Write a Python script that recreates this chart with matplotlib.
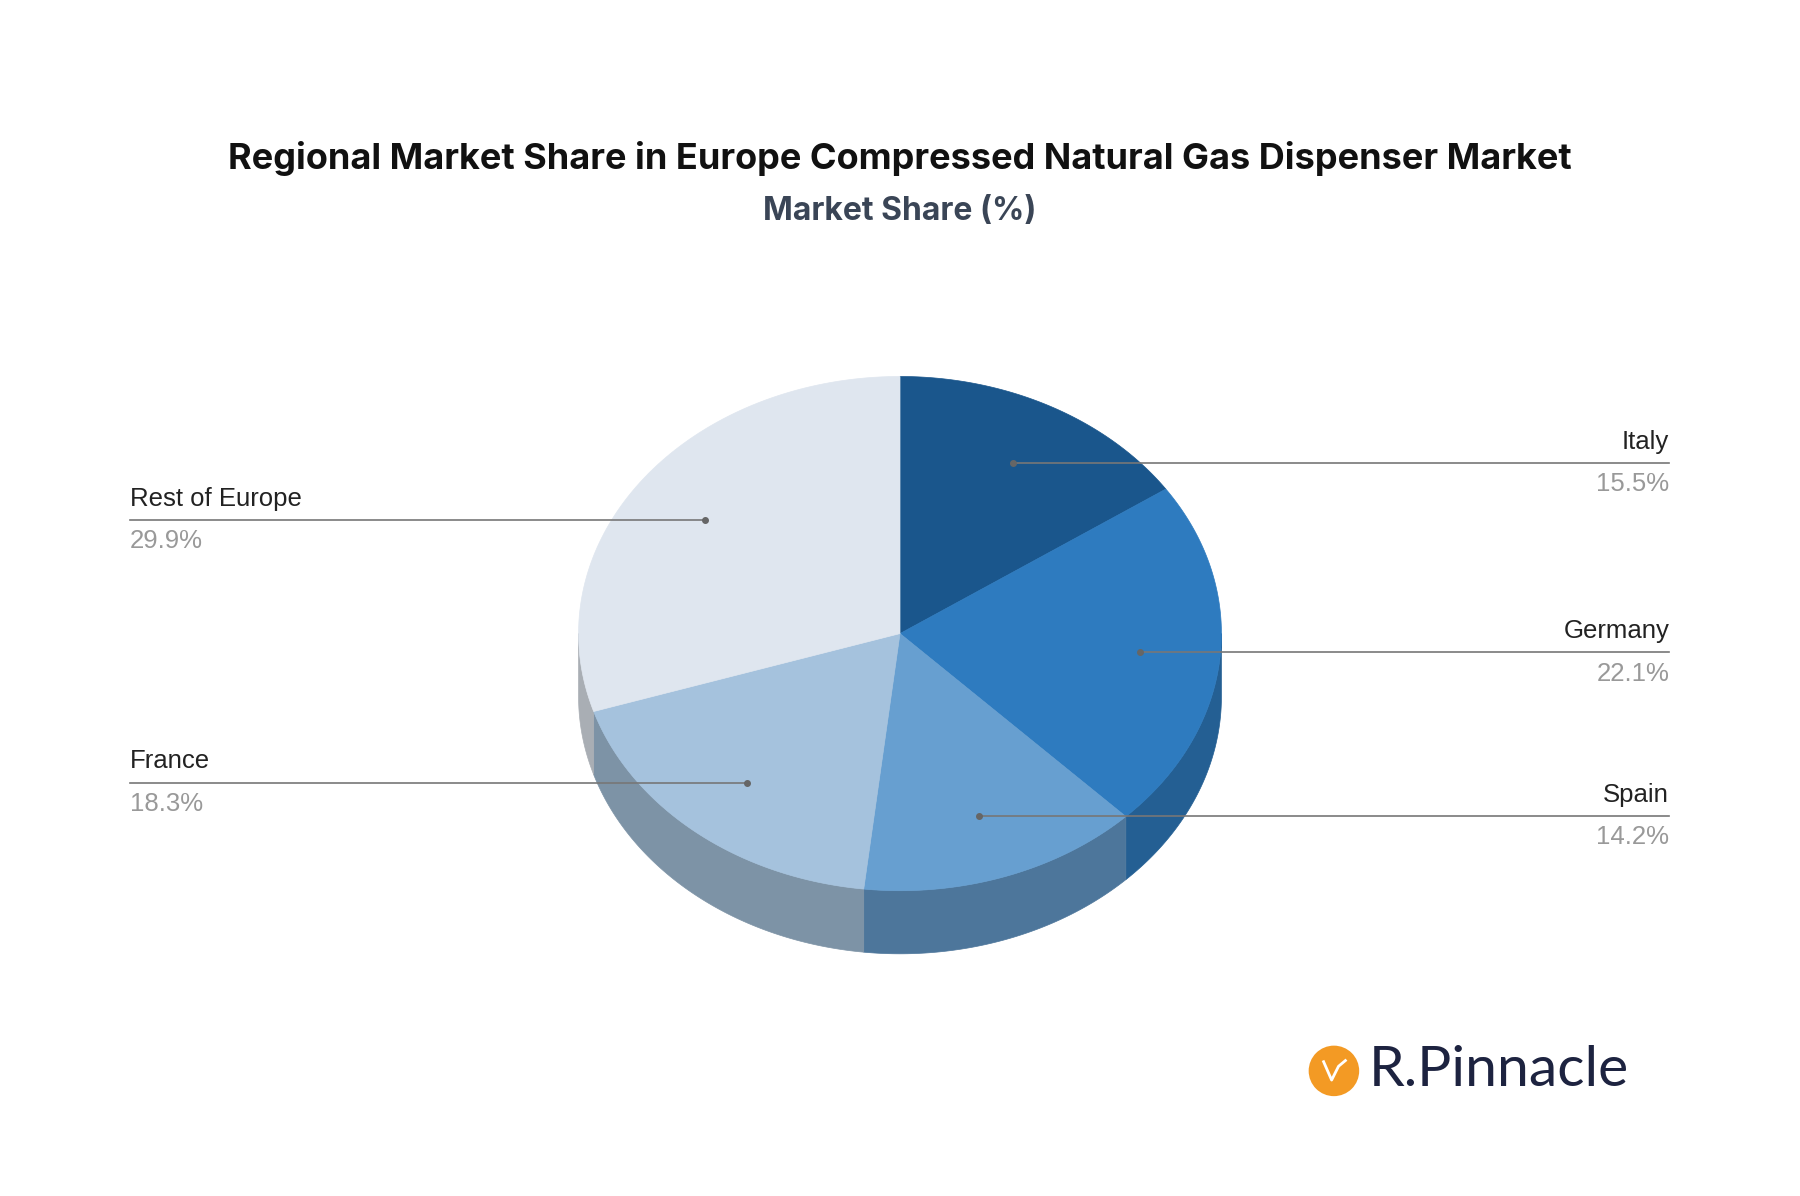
import matplotlib.pyplot as plt
import matplotlib.patches as mpatches
import numpy as np

regions = ["Italy", "Germany", "Spain", "France", "Rest of Europe"]
shares = [15.5, 22.1, 14.2, 18.3, 29.9]
top_colors = ["#1a568c", "#2e7bbf", "#679fd0", "#a5c2dd", "#dfe6ef"]
side_colors = ["#215a8c", "#245f93", "#4d769b", "#7d93a6", "#a9aeb4"]
label_side = ["right", "right", "right", "left", "left"]

# layout in reference pixels (1568 x 1042 canvas)
W, H = 1568, 1042
cx, cy, rx, ry, depth = 784, 552, 280, 224, 55

fig = plt.figure(figsize=(18, 11.96), dpi=100)
ax = fig.add_axes([0, 0, 1, 1])
ax.set_xlim(0, W)
ax.set_ylim(H, 0)
ax.axis("off")

def pt(theta, dy=0.0, r=1.0):
    return cx + r * rx * np.sin(theta), cy - r * ry * np.cos(theta) + dy

bounds = np.radians(np.concatenate([[0], np.cumsum(shares)]) / 100 * 360)

# side walls (visible where the rim faces downward: 90..270 deg)
for i in range(len(shares)):
    a0 = max(bounds[i], np.pi / 2)
    a1 = min(bounds[i + 1], 3 * np.pi / 2)
    if a1 <= a0:
        continue
    t = np.linspace(a0, a1, 80)
    xs, ys = pt(t)
    xs2, ys2 = pt(t[::-1], depth)
    poly = np.column_stack([np.concatenate([xs, xs2]), np.concatenate([ys, ys2])])
    ax.add_patch(mpatches.Polygon(poly, closed=True, fc=side_colors[i], ec=side_colors[i], lw=0.5))

# top faces
for i in range(len(shares)):
    t = np.linspace(bounds[i], bounds[i + 1], 120)
    xs, ys = pt(t)
    poly = np.column_stack([np.concatenate([[cx], xs]), np.concatenate([[cy], ys])])
    ax.add_patch(mpatches.Polygon(poly, closed=True, fc=top_colors[i], ec=top_colors[i], lw=0.5))

# leader lines and labels
for i, name in enumerate(regions):
    mid = (bounds[i] + bounds[i + 1]) / 2
    x0, y0 = pt(mid, r=0.75)
    if label_side[i] == "right":
        xe, ha = 1454, "right"
    else:
        xe, ha = 113, "left"
    ax.plot([x0, xe], [y0, y0], color="#777777", lw=1.2)
    ax.plot([x0], [y0], "o", color="#666666", ms=4)
    ax.text(xe, y0 - 8, name, ha=ha, va="bottom", fontsize=18.5, color="#222222",
            family="Liberation Sans")
    ax.text(xe, y0 + 8, f"{shares[i]}%", ha=ha, va="top", fontsize=18.5, color="#999999",
            family="Liberation Sans")

ax.text(W / 2, 138, "Regional Market Share in Europe Compressed Natural Gas Dispenser Market",
        ha="center", va="center", fontsize=26, fontweight="bold", color="#111111",
        family="Inter")
ax.text(W / 2, 184, "Market Share (%)", ha="center", va="center", fontsize=23,
        fontweight="bold", color="#3a4556", family="Inter")

# logo
ax.add_patch(mpatches.Ellipse((1162, 933), 44, 44, fc="#f39a24", ec="none"))
ax.plot([1153, 1160, 1166, 1172], [925, 941, 929, 924], color="white", lw=2)
ax.text(1192, 933, "R.Pinnacle", ha="left", va="center", fontsize=41, color="#1d2340",
        family="Lato")

fig.savefig("out.png", dpi=100)
